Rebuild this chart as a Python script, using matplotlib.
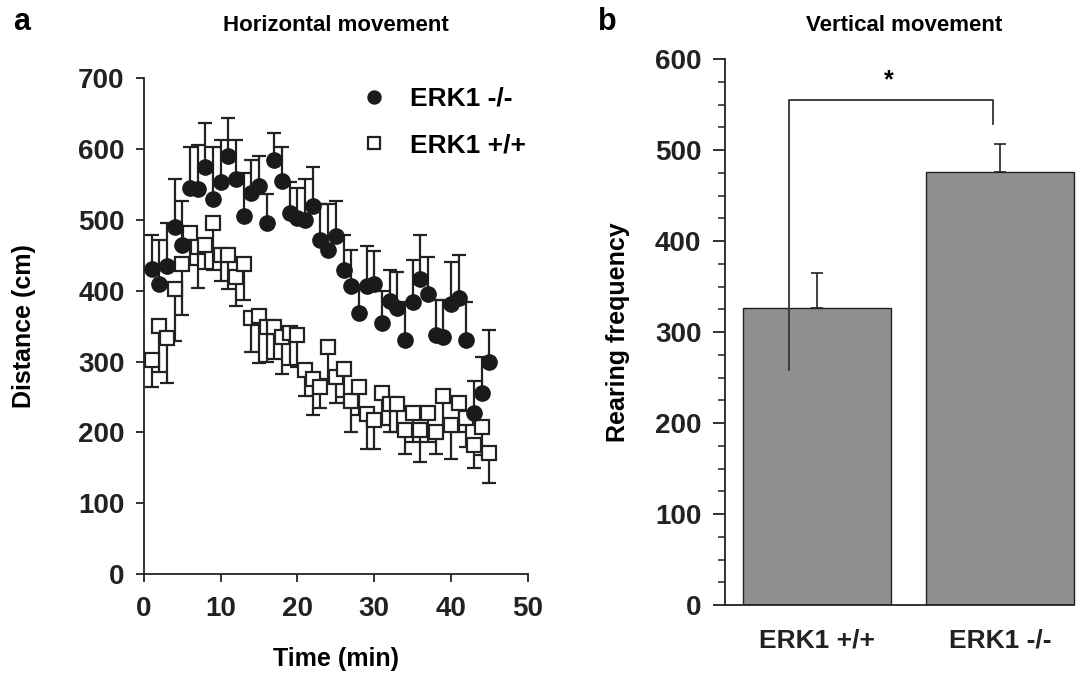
import numpy as np
import matplotlib.pyplot as plt

plt.rcParams['font.family'] = ['Liberation Sans', 'DejaVu Sans']
plt.rcParams['font.weight'] = 'bold'
plt.rcParams['axes.labelweight'] = 'bold'
plt.rcParams['axes.titleweight'] = 'bold'

# panel a: horizontal movement (distance, cm) per minute
time_min = np.arange(1, 46)
ko_mean = [431, 409, 435, 490, 464, 545, 543, 575, 530, 553, 590, 558, 506, 538, 547,
           495, 585, 555, 509, 503, 500, 520, 471, 458, 477, 429, 406, 369, 407, 410,
           354, 386, 375, 331, 384, 416, 395, 337, 335, 381, 390, 330, 228, 256, 299]
ko_err = [47, 63, 60, 67, 63, 57, 63, 61, 72, 59, 53, 54, 60, 46, 43,
          42, 37, 48, 44, 42, 58, 54, 51, 64, 50, 50, 52, 39, 56, 46,
          46, 43, 52, 53, 59, 62, 53, 50, 52, 59, 60, 54, 45, 50, 45]
wt_mean = [302, 350, 333, 402, 437, 481, 462, 464, 495, 450, 450, 419, 437, 361, 365,
           349, 349, 335, 340, 337, 288, 276, 264, 320, 278, 290, 245, 264, 226, 217,
           255, 240, 240, 203, 227, 203, 227, 200, 252, 210, 241, 220, 182, 208, 171]
wt_err = [38, 65, 63, 73, 71, 45, 58, 34, 66, 36, 48, 41, 50, 47, 67,
          50, 45, 52, 45, 45, 36, 52, 30, 45, 37, 40, 44, 40, 50, 41,
          45, 40, 40, 34, 40, 44, 40, 30, 45, 47, 40, 40, 32, 40, 42]

# panel b: vertical movement (rearing frequency)
groups = ['ERK1 +/+', 'ERK1 -/-']
rearing_mean = [326, 476]
rearing_err = [39, 31]
bracket_low = [258, 529]
bracket_top = 555

fig = plt.figure(figsize=(10.92, 6.73), dpi=100)

# ---- panel a
ax1 = fig.add_axes([0.1319, 0.1467, 0.3513, 0.7374])
ax1.errorbar(time_min, wt_mean, yerr=[wt_err, np.zeros(len(wt_err))], fmt='s',
             mfc='white', mec='#222222', mew=1.6, ms=10, ecolor='#222222',
             elinewidth=1.6, capsize=5, capthick=1.6, label='ERK1 +/+', zorder=2)
ax1.errorbar(time_min, ko_mean, yerr=[np.zeros(len(ko_err)), ko_err], fmt='o',
             mfc='#1a1a1a', mec='#1a1a1a', ms=11, ecolor='#222222',
             elinewidth=1.6, capsize=5, capthick=1.6, label='ERK1 -/-', zorder=3)
ax1.set_xlim(0, 50)
ax1.set_ylim(0, 700)
ax1.set_xticks(range(0, 51, 10))
ax1.set_yticks(range(0, 701, 100))
ax1.spines['top'].set_visible(False)
ax1.spines['right'].set_visible(False)
for s in ['left', 'bottom']:
    ax1.spines[s].set_linewidth(1.3)
    ax1.spines[s].set_color('#222222')
ax1.tick_params(direction='out', length=6, width=1.3, labelsize=20, colors='#222222')
ax1.tick_params(axis='x', pad=10)
ax1.tick_params(axis='y', pad=8)
ax1.set_xlabel('Time (min)', fontsize=18, labelpad=18)
ax1.set_ylabel('Distance (cm)', fontsize=18, labelpad=30)
h, l = ax1.get_legend_handles_labels()
leg = ax1.legend([hh[0] for hh in h[::-1]], l[::-1], loc='upper left',
                 bbox_to_anchor=(0.47, 1.03), frameon=False, fontsize=19,
                 handletextpad=0.35, labelspacing=0.85, markerscale=0.85)
ax1.set_title('Horizontal movement', fontsize=16, pad=34)
fig.text(0.012, 0.955, 'a', fontsize=22)

# ---- panel b
ax2 = fig.add_axes([0.6639, 0.1010, 0.3277, 0.8113])
x = np.arange(len(groups))
ax2.bar(x, rearing_mean, width=0.807, color='#8f8f8f', edgecolor='#222222', linewidth=1)
ax2.errorbar(x, rearing_mean, yerr=[[0, 0], rearing_err], fmt='none', ecolor='#222222',
             elinewidth=1.2, capsize=4, capthick=1.2)
ax2.plot([-0.153, -0.153, 0.959, 0.959],
         [bracket_low[0], bracket_top, bracket_top, bracket_low[1]],
         color='#333333', lw=1.3)
ax2.text(0.39, bracket_top + 8, '*', ha='center', va='bottom', fontsize=18)
ax2.set_xlim(-0.501, 1.449)
ax2.set_ylim(0, 600)
ax2.set_yticks(range(0, 601, 100))
ax2.set_yticks(range(0, 601, 25), minor=True)
ax2.set_xticks(x)
ax2.set_xticklabels(groups)
ax2.spines['top'].set_visible(False)
ax2.spines['right'].set_visible(False)
ax2.spines['bottom'].set_bounds(-0.501, 1.4)
for s in ['left', 'bottom']:
    ax2.spines[s].set_linewidth(1.3)
    ax2.spines[s].set_color('#222222')
ax2.tick_params(axis='y', which='major', direction='out', length=9, width=1.3,
                labelsize=20, pad=8, colors='#222222')
ax2.tick_params(axis='y', which='minor', direction='out', length=5, width=1.1, colors='#222222')
ax2.tick_params(axis='x', length=0, labelsize=19, pad=17, colors='#222222')
ax2.set_ylabel('Rearing frequency', fontsize=18, labelpad=18)
ax2.set_title('Vertical movement', fontsize=16, pad=20)
fig.text(0.548, 0.955, 'b', fontsize=22)

fig.savefig('out.png', dpi=100)
